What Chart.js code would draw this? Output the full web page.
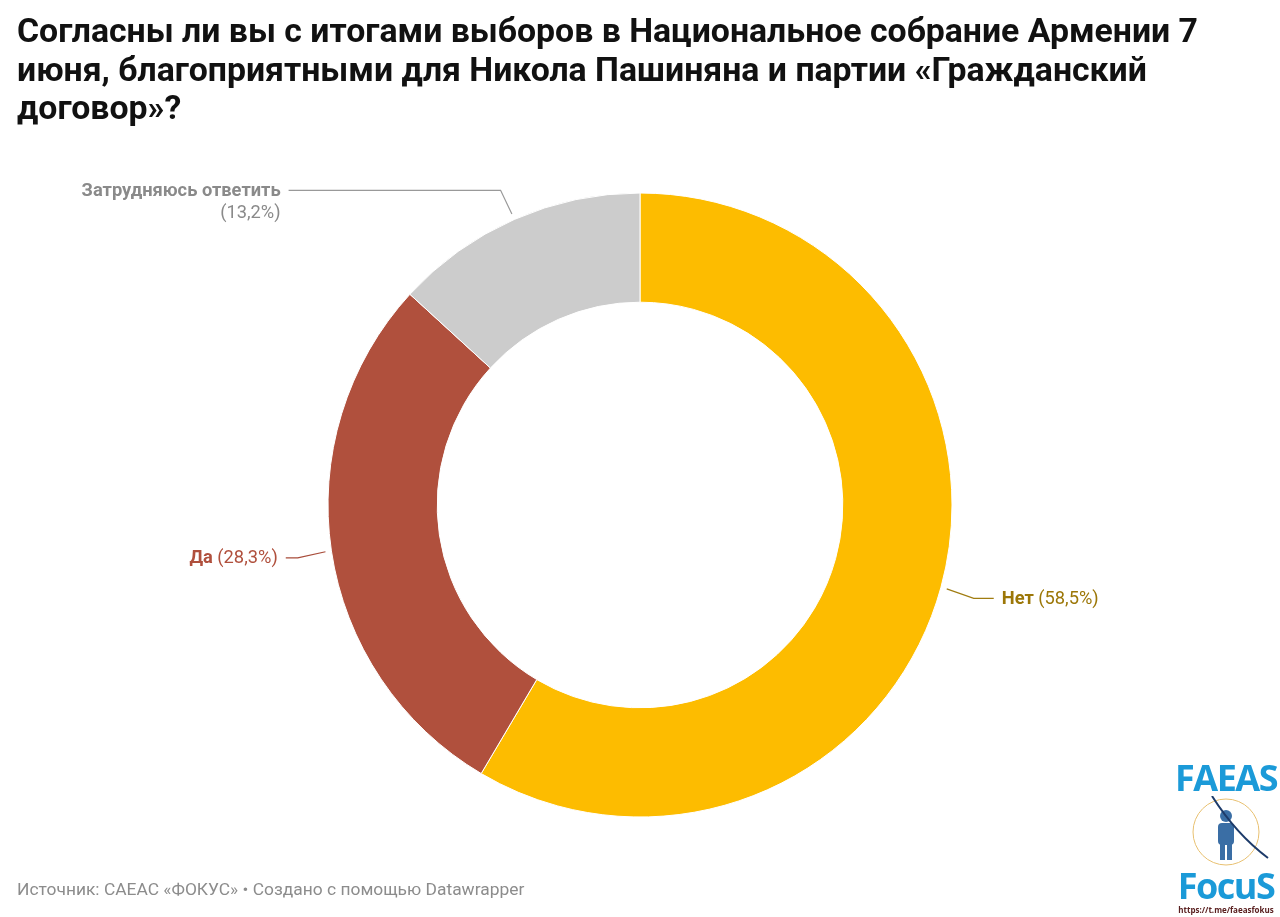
<!DOCTYPE html>
<html lang="ru">
<head>
<meta charset="utf-8">
<script src="https://cdn.jsdelivr.net/npm/chart.js@4.4.1/dist/chart.umd.min.js"></script>
<style>
    html, body {
        margin: 0;
        padding: 0;
        background: #fff;
        width: 1280px;
        height: 917px;
        overflow: hidden;
        font-family: Roboto, "Noto Sans", sans-serif;
    }
    #wrap {
        position: absolute;
        left: 0;
        top: 0;
        width: 1280px;
        height: 917px;
    }
    h1 {
        position: absolute;
        left: 17px;
        top: 12px;
        margin: 0;
        width: 1215px;
        font-size: 33.8px;
        line-height: 38.5px;
        font-weight: 700;
        color: #111;
    }
    .source {
        position: absolute;
        left: 17px;
        top: 879px;
        font-size: 17.4px;
        color: #8c8c8c;
    }
    .logo {
        position: absolute;
        left: 1174px;
        top: 760px;
        width: 104px;
        height: 157px;
        text-align: center;
    }
    .logo .big {
        font-family: "Open Sans", sans-serif;
        font-weight: 700;
        font-size: 36px;
        line-height: 36px;
        color: #1b9ad8;
        letter-spacing: -1.5px;
    }
    .logo .url {
        font-family: "Open Sans", sans-serif;
        font-weight: 700;
        font-size: 8px;
        color: #5a2020;
    }
    .logo svg {
        display: block;
        margin: 0 auto;
    }
</style>
</head>
<body>
<div id="wrap"><canvas id="pieChart"></canvas></div>
<h1>Согласны ли вы с итогами выборов в Национальное собрание Армении 7 июня, благоприятными для Никола Пашиняна и партии «Гражданский договор»?</h1>
<div class="source">Источник: CAEAC «ФОКУС» • Создано с помощью Datawrapper</div>
<div class="logo">
    <div class="big">FAEAS</div>
    <svg width="100" height="72" viewBox="0 0 100 72">
        <circle cx="50" cy="36" r="33" fill="none" stroke="#e8c070" stroke-width="1"/>
        <circle cx="50" cy="20" r="6" fill="#3a6ea5"/>
        <rect x="42" y="27" width="16" height="22" rx="4" fill="#3a6ea5"/>
        <rect x="44" y="48" width="5" height="16" fill="#3a6ea5"/>
        <rect x="51" y="48" width="5" height="16" fill="#3a6ea5"/>
        <path d="M36 0 Q60 38 92 62" fill="none" stroke="#1d3b6a" stroke-width="2"/>
    </svg>
    <div class="big">FocuS</div>
    <div class="url">https://t.me/faeasfokus</div>
</div>

<script>
    var fontFamily = "Roboto";

    // данные
    var categories = ["Нет", "Да", "Затрудняюсь ответить"];
    var values = [58.5, 28.3, 13.2];

    var sliceColors = ["#fdbc00", "#b0503d", "#cccccc"];
    var labelColors = ["#9c7708", "#b0503d", "#8a8a8a"];
    var lineColors = ["#a07c10", "#a84c3a", "#999999"];

    function fmt(v) {
        return "(" + v.toFixed(1).replace(".", ",") + "%)";
    }

    // подписи с выносными линиями
    var outerLabels = {
        id: "outerLabels",
        afterDatasetsDraw: function (chart) {
            var ctx = chart.ctx;
            var meta = chart.getDatasetMeta(0);
            meta.data.forEach(function (arc, i) {
                var p = arc.getProps(["x", "y", "startAngle", "endAngle", "outerRadius"], true);
                var mid = (p.startAngle + p.endAngle) / 2;
                var r1 = p.outerRadius + 6;
                var r2 = p.outerRadius + 34;
                var x1 = p.x + Math.cos(mid) * r1;
                var y1 = p.y + Math.sin(mid) * r1;
                var x2 = p.x + Math.cos(mid) * r2;
                var y2 = p.y + Math.sin(mid) * r2 + 2;
                var right = Math.cos(mid) >= 0;
                var long = categories[i].length > 10;
                var x3;
                if (long) {
                    x3 = right ? x2 + 212 : x2 - 212;
                } else {
                    x3 = right ? x2 + 20 : x2 - 12;
                }
                ctx.save();
                ctx.strokeStyle = lineColors[i];
                ctx.lineWidth = 1.2;
                ctx.beginPath();
                ctx.moveTo(x1, y1);
                ctx.lineTo(x2, y2);
                ctx.lineTo(x3, y2);
                ctx.stroke();

                var tx = right ? x3 + 8 : x3 - 8;
                ctx.fillStyle = labelColors[i];
                ctx.textBaseline = "middle";
                var boldFont = "700 18.3px " + fontFamily;
                var regFont = "400 18.3px " + fontFamily;
                var ty = y2 + 1;
                if (long) {
                    ctx.textAlign = right ? "left" : "right";
                    ctx.font = boldFont;
                    ctx.fillText(categories[i], tx, ty);
                    ctx.font = regFont;
                    ctx.fillText(fmt(values[i]), tx, ty + 22);
                } else {
                    ctx.font = boldFont;
                    var w1 = ctx.measureText(categories[i] + " ").width;
                    ctx.font = regFont;
                    var w2 = ctx.measureText(fmt(values[i])).width;
                    var start = right ? tx : tx - w1 - w2;
                    ctx.textAlign = "left";
                    ctx.font = boldFont;
                    ctx.fillText(categories[i], start, ty);
                    ctx.font = regFont;
                    ctx.fillText(fmt(values[i]), start + w1, ty);
                }
                ctx.restore();
            });
        },
    };

    var config_doughnut = {
        type: "doughnut",
        data: {
            labels: categories,
            datasets: [
                {
                    data: values,
                    backgroundColor: sliceColors,
                    hoverBackgroundColor: sliceColors,
                    borderColor: "#ffffff",
                    borderWidth: 1,
                    hoverOffset: 0,
                },
            ],
        },
        options: {
            responsive: true,
            maintainAspectRatio: false,
            animation: false,
            radius: 312,
            cutout: "65%",
            layout: {
                padding: { top: 193, bottom: 100, left: 0, right: 0 },
            },
            plugins: {
                legend: { display: false },
                tooltip: { enabled: false },
            },
        },
        plugins: [outerLabels],
    };

    var pieChart = new Chart("pieChart", config_doughnut);
</script>
</body>
</html>
